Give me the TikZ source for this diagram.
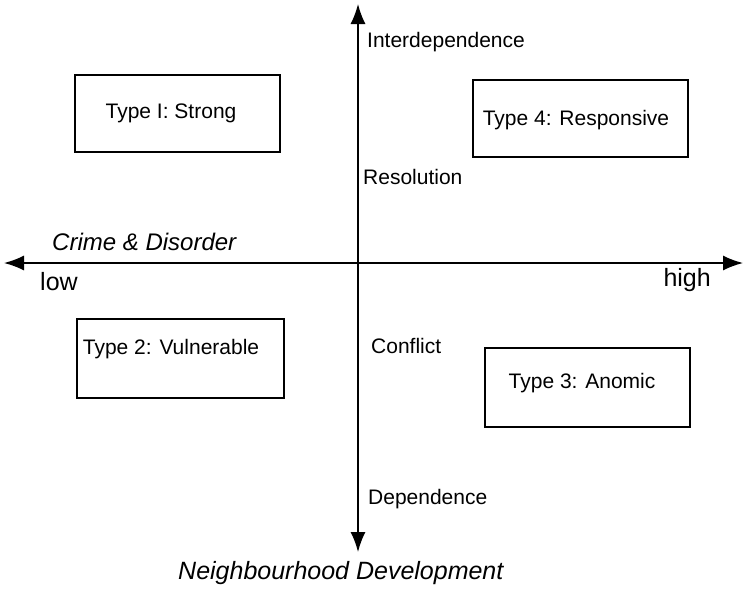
\documentclass[tikz,border=0pt]{standalone}
\usepackage{fontspec}
\setmainfont{Liberation Sans}
\usetikzlibrary{arrows.meta}
\tikzset{
  axis/.style={{Latex[length=20pt,width=15pt]}-{Latex[length=20pt,width=15pt]}, line width=1.5pt},
  quad/.style={line width=1.4pt},
  lab/.style={font=\fontsize{21}{25}\selectfont, inner sep=0pt},
}
\begin{document}
\begin{tikzpicture}[x=1pt,y=-1pt]
	\useasboundingbox (0,0) rectangle (743,592);
	\coordinate (west) at (4,263);
	\coordinate (east) at (743,263);
	\coordinate (north) at (358,4);
	\coordinate (south) at (358,552);
	\draw[axis] (west) -- (east);
	\draw[axis] (north) -- (south);
	\draw[quad] (75,75) rectangle (280,152);
	\node[lab] (strong) at (171,113) {Type I: Strong};
	\draw[quad] (473,80) rectangle (688,157);
	\node[lab] (responsive) at (576,120) {Type 4: Responsive};
	\draw[quad] (77,319) rectangle (284,398);
	\node[lab] (vulnerable) at (171,349) {Type 2: Vulnerable};
	\draw[quad] (485,348) rectangle (690,427);
	\node[lab] (anomic) at (582,383) {Type 3: Anomic};
	\node[lab,anchor=west] (interdep) at (367,42) {Interdependence};
	\node[lab,anchor=west] (resolution) at (363,177) {Resolution};
	\node[lab,anchor=west] (conflict) at (371,346) {Conflict};
	\node[lab,anchor=west] (dep) at (368,499) {Dependence};
	\node[lab,anchor=west,font=\fontsize{24}{28}\selectfont\itshape] (crime) at (52,242) {Crime \& Disorder};
	\node[lab,anchor=west,font=\fontsize{25}{29}\selectfont] (low) at (40,282) {low};
	\node[lab,anchor=east,font=\fontsize{25}{29}\selectfont] (high) at (711,280) {high};
	\node[lab,anchor=west,font=\fontsize{25}{29}\selectfont\itshape] (neigh) at (178,573) {Neighbourhood Development};
\end{tikzpicture}
\end{document}
